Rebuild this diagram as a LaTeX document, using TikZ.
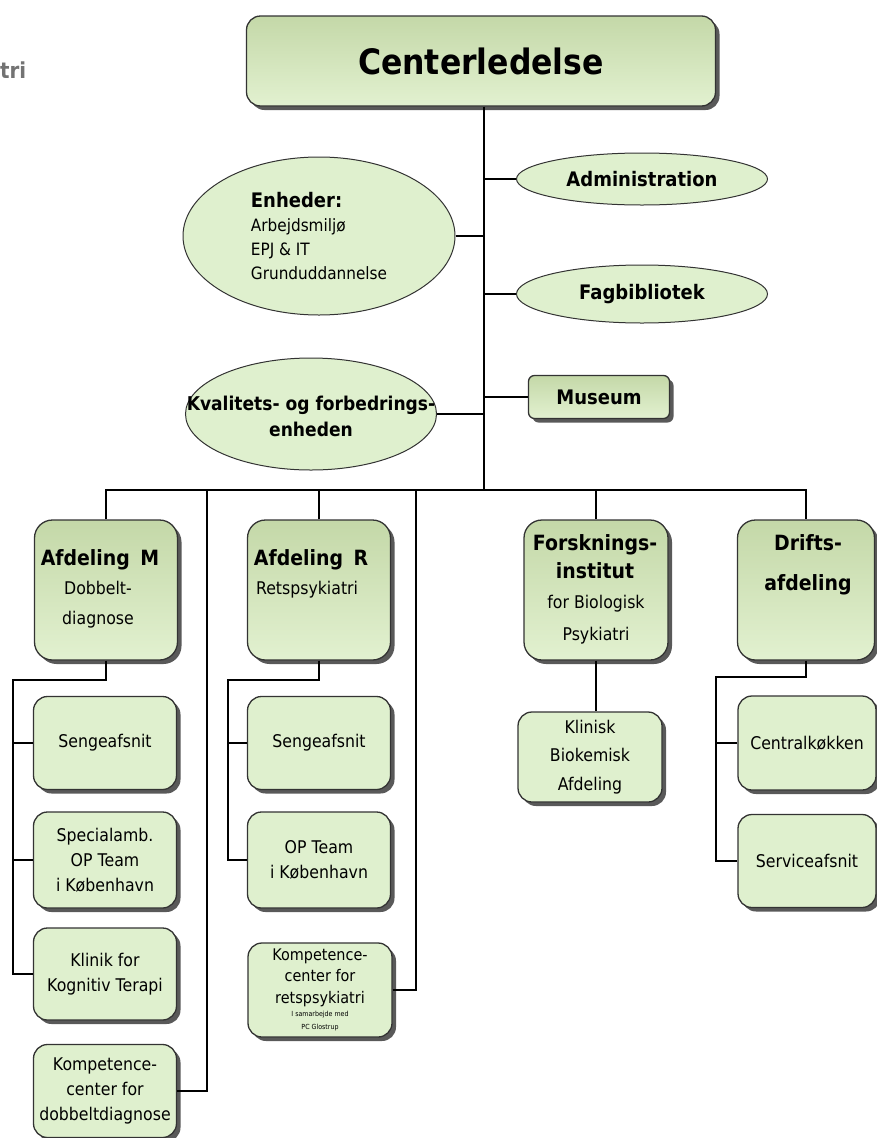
\documentclass[tikz,border=0pt]{standalone}
\usepackage{fontspec}
\setmainfont{DejaVu Sans}[FakeStretch=0.9]
\usetikzlibrary{shapes.geometric,shadows}
\definecolor{boxtop}{RGB}{196,216,168}
\definecolor{boxbot}{RGB}{226,241,208}
\definecolor{boxflat}{RGB}{223,240,206}
\colorlet{edge}{black!80}

\begin{document}
\begin{tikzpicture}[x=1pt,y=-1pt,
    every node/.style={inner sep=0pt},
    shade/.style={drop shadow={shadow xshift=4pt,shadow yshift=-4pt,fill=black!65,opacity=1}},
    unitbox/.style={draw=edge,line width=1.3pt,rounded corners=18pt,top color=boxtop,bottom color=boxbot,shade,
        minimum width=143pt,minimum height=140pt},
    subbox/.style={draw=edge,line width=1.3pt,rounded corners=14pt,fill=boxflat,shade,
        minimum width=143pt,minimum height=93pt,align=center,font=\fontsize{17.5}{25}\selectfont},
    staff/.style={ellipse,draw=edge,line width=1pt,fill=boxflat},
    headtxt/.style={align=center,font=\bfseries\fontsize{21}{28}\selectfont},
    subtxt/.style={align=center,font=\fontsize{17.5}{30}\selectfont},
    link/.style={black,line width=1.4pt}]
        \useasboundingbox (0,0) rectangle (876,1138);
        \node[font=\bfseries\fontsize{22}{26}\selectfont,text=black!55,anchor=west] (tri) at (0,70) {tri};

        \node[draw=edge,line width=1.3pt,rounded corners=14pt,top color=boxtop,bottom color=boxbot,shade,
            minimum width=469pt,minimum height=90pt,font=\bfseries\fontsize{35}{40}\selectfont] (ledelse) at (481,61) {Centerledelse};

        \node[staff,minimum width=251pt,minimum height=52pt,font=\bfseries\fontsize{20}{24}\selectfont] (admin) at (642,179) {Administration};
        \node[staff,minimum width=272pt,minimum height=158pt,align=left,font=\fontsize{17}{24}\selectfont] (enheder) at (319,236)
            {{\bfseries\fontsize{20}{24}\selectfont Enheder:}\\Arbejdsmiljø\\EPJ \& IT\\Grunduddannelse};
        \node[staff,minimum width=251pt,minimum height=58pt,font=\bfseries\fontsize{20}{24}\selectfont] (fagbib) at (642,294) {Fagbibliotek};
        \node[draw=edge,line width=1.3pt,rounded corners=6pt,top color=boxtop,bottom color=boxbot,shade,
            minimum width=141pt,minimum height=43pt,font=\bfseries\fontsize{20}{24}\selectfont] (museum) at (599,397) {Museum};
        \node[staff,minimum width=251pt,minimum height=112pt] (kval) at (311,414) {};
        \node[align=center,font=\bfseries\fontsize{19}{26}\selectfont] at (311,416) {Kvalitets- og forbedrings-\\enheden};

        \node[unitbox] (afdM) at (106,590) {};
        \node[headtxt] at (100,560) {Afdeling\enspace M};
        \node[subtxt] at (98,605) {Dobbelt-\\diagnose};
        \node[unitbox] (afdR) at (319,590) {};
        \node[headtxt] at (311,560) {Afdeling\enspace R};
        \node[subtxt] at (307,590) {Retspsykiatri};
        \node[unitbox,minimum width=144pt] (forsk) at (596,590) {};
        \node[headtxt] at (595,557) {Forsknings-\\institut};
        \node[subtxt,font=\fontsize{17.5}{32}\selectfont] at (596,620) {for Biologisk\\Psykiatri};
        \node[unitbox,minimum width=137pt] (drift) at (806,590) {};
        \node[headtxt,font=\bfseries\fontsize{21}{40}\selectfont] at (808,565) {Drifts-\\afdeling};

        \node[subbox] (sengM) at (105,743) {Sengeafsnit};
        \node[subbox,minimum height=96pt] (opM) at (105,860) {Specialamb.\\OP Team\\i København};
        \node[subbox,minimum height=92pt] (klinik) at (105,974) {Klinik for\\Kognitiv Terapi};
        \node[subbox] (kompM) at (105,1091) {Kompetence-\\center for\\dobbeltdiagnose};

        \node[subbox] (sengR) at (319,743) {Sengeafsnit};
        \node[subbox,minimum height=96pt] (opR) at (319,860) {OP Team\\i København};
        \node[subbox,minimum width=144pt,minimum height=94pt,font=\fontsize{16}{21.5}\selectfont] (kompR) at (320,990)
            {Kompetence-\\center for\\retspsykiatri\\[-8pt]{\fontsize{7}{8}\selectfont I samarbejde med}\\[-8.5pt]{\fontsize{7}{8}\selectfont PC Glostrup}};

        \node[subbox,minimum width=144pt,minimum height=90pt,font=\fontsize{17.5}{28.5}\selectfont] (klinisk) at (590,757) {Klinisk\\Biokemisk\\Afdeling};

        \node[subbox,minimum width=138pt,minimum height=94pt] (kokken) at (807,743) {Centralkøkken};
        \node[subbox,minimum width=138pt,minimum height=93pt] (service) at (807,861) {Serviceafsnit};

        \coordinate (trunk) at (484,490);
        \coordinate (tapM) at (207,490);
        \coordinate (tapR) at (416,490);
        \coordinate (mRail) at (13,680);
        \coordinate (rRail) at (228,680);
        \coordinate (dRail) at (716,677);

        \draw[link] (ledelse.south -| trunk) -- (trunk);
        \draw[link] (admin.west) -- (admin.west -| trunk);
        \draw[link] (enheder.east) -- (enheder.east -| trunk);
        \draw[link] (fagbib.west) -- (fagbib.west -| trunk);
        \draw[link] (museum.west) -- (museum.west -| trunk);
        \draw[link] (kval.east) -- (kval.east -| trunk);

        \draw[link] (afdM.north) |- (trunk) -| (drift.north);
        \draw[link] (afdR.north) -- (afdR.north |- trunk);
        \draw[link] (forsk.north) -- (forsk.north |- trunk);
        \draw[link] (kompM.east) -| (tapM);
        \draw[link] (kompR.east) -| (tapR);

        \draw[link] (afdM.south) |- (mRail) |- (klinik.west);
        \draw[link] (sengM.west) -- (sengM.west -| mRail);
        \draw[link] (opM.west) -- (opM.west -| mRail);

        \draw[link] (afdR.south) |- (rRail) |- (opR.west);
        \draw[link] (sengR.west) -- (sengR.west -| rRail);

        \draw[link] (forsk.south) -- (forsk.south |- klinisk.north);

        \draw[link] (drift.south) |- (dRail) |- (service.west);
        \draw[link] (kokken.west) -- (kokken.west -| dRail);
    \end{tikzpicture}
\end{document}
